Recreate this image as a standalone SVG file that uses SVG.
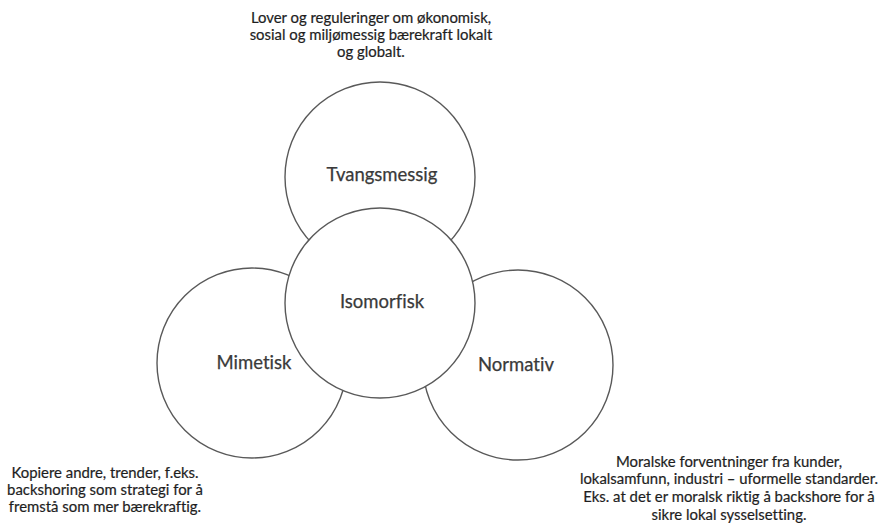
<svg xmlns="http://www.w3.org/2000/svg" width="889" height="525" viewBox="0 0 889 525">
<style>
.c{fill:#fff;stroke:#595959;stroke-width:1.4}
.lbl{font-family:Lato,"Open Sans","Liberation Sans",sans-serif;font-size:18.5px;fill:#3a3a3a;text-anchor:middle;font-variant-ligatures:none;stroke:#3a3a3a;stroke-width:0.25}
.ann{font-family:Lato,"Open Sans","Liberation Sans",sans-serif;font-size:14.9px;fill:#1e1e1e;text-anchor:middle;font-variant-ligatures:none;stroke:#1e1e1e;stroke-width:0.2}
</style>
<rect width="889" height="525" fill="#fff"/>
<g id="connectors"></g>
<g id="tvangsmessig">
<circle class="c" cx="380" cy="177" r="95"/>
<text class="lbl" x="382" y="181">Tvangsmessig</text>
</g>
<g id="mimetisk">
<circle class="c" cx="252" cy="363" r="95"/>
<text class="lbl" x="254" y="369">Mimetisk</text>
</g>
<g id="normativ">
<circle class="c" cx="518" cy="365" r="95"/>
<text class="lbl" x="516" y="371">Normativ</text>
</g>
<g id="isomorfisk">
<circle class="c" cx="380" cy="303" r="95"/>
<text class="lbl" x="382" y="308">Isomorfisk</text>
</g>
<g id="note-top">
<text class="ann" x="371" y="23">Lover og reguleringer om økonomisk,</text>
<text class="ann" x="371" y="40">sosial og miljømessig bærekraft lokalt</text>
<text class="ann" x="371" y="57">og globalt.</text>
</g>
<g id="note-left">
<text class="ann" x="105" y="478">Kopiere andre, trender, f.eks.</text>
<text class="ann" x="105" y="495">backshoring som strategi for å</text>
<text class="ann" x="105" y="512">fremstå som mer bærekraftig.</text>
</g>
<g id="note-right">
<text class="ann" x="729" y="467">Moralske forventninger fra kunder,</text>
<text class="ann" x="729" y="484">lokalsamfunn, industri – uformelle standarder.</text>
<text class="ann" x="729" y="502">Eks. at det er moralsk riktig å backshore for å</text>
<text class="ann" x="729" y="520">sikre lokal sysselsetting.</text>
</g>
</svg>
